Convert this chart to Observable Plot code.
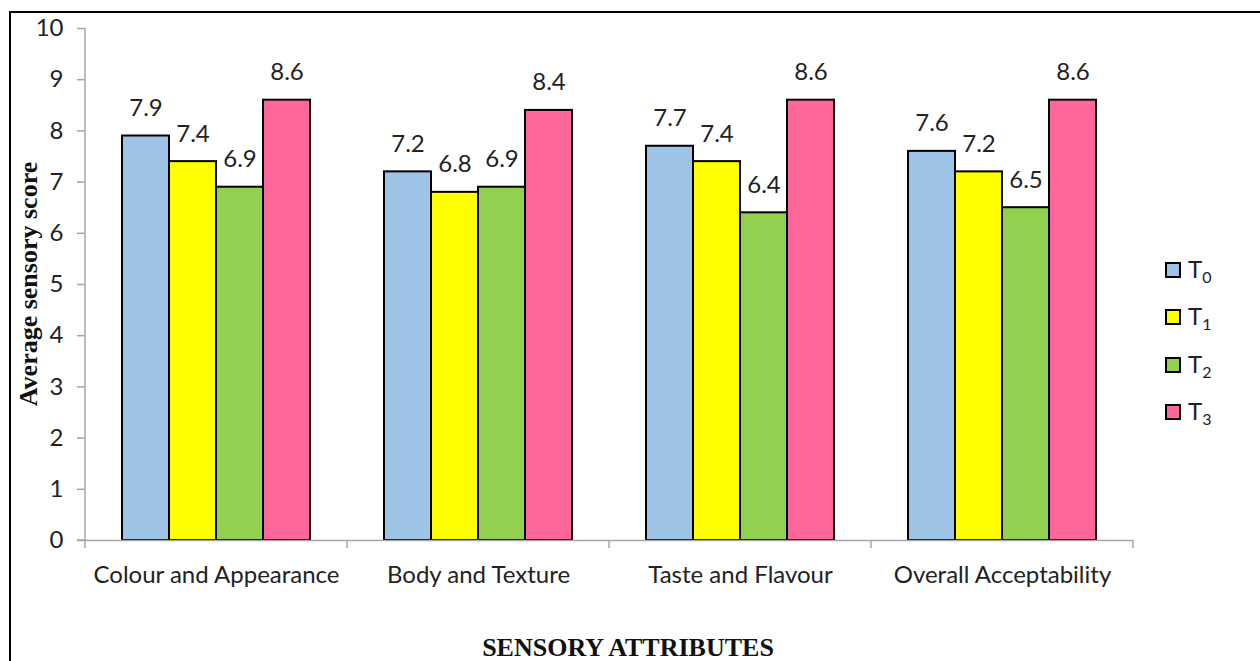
<!DOCTYPE html>
<html>
<head>
<meta charset="utf-8">
<script src="https://cdn.jsdelivr.net/npm/d3@7"></script>
<script src="https://cdn.jsdelivr.net/npm/@observablehq/plot@0.6"></script>
<style>
  html, body { margin: 0; padding: 0; background: #fff; }
  #wrap { position: relative; width: 1260px; height: 661px; overflow: hidden; }
  #border { position: absolute; left: 9px; top: 11px; width: 1300px; height: 700px; border: 2px solid #000; box-sizing: border-box; }
  #chart { position: absolute; left: 0; top: 0; }
  #legend { position: absolute; left: 1165px; top: 246px; font-family: Lato, "Open Sans", sans-serif; font-size: 24px; color: #222; }
  .item { display: flex; align-items: center; height: 47.5px; }
  .sw { width: 12px; height: 12px; border: 2px solid #000; margin-right: 7px; }
  .item sub { font-size: 16px; vertical-align: -5px; }
</style>
</head>
<body>
<div id="wrap">
  <div id="border"></div>
  <div id="chart"></div>
  <div id="legend"></div>
</div>
<script>
const categories = ["Colour and Appearance", "Body and Texture", "Taste and Flavour", "Overall Acceptability"];
const series = ["T0", "T1", "T2", "T3"];
const seriesSub = ["0", "1", "2", "3"];
const colors = ["#9dc3e6", "#ffff00", "#92d050", "#ff6699"];
const T0 = [7.9, 7.2, 7.7, 7.6];
const T1 = [7.4, 6.8, 7.4, 7.2];
const T2 = [6.9, 6.9, 6.4, 6.5];
const T3 = [8.6, 8.4, 8.6, 8.6];
const yTicks = [0, 1, 2, 3, 4, 5, 6, 7, 8, 9, 10];

const valuesBySeries = [T0, T1, T2, T3];
const data = [];
categories.forEach((c, i) => series.forEach((s, j) => data.push({category: c, series: s, value: valuesBySeries[j][i]})));

const font = "Lato, 'Open Sans', sans-serif";
const axisGrey = "#a6a6a6";
const textColor = "#222";

const chart = Plot.plot({
  width: 1260,
  height: 661,
  marginLeft: 84,
  marginRight: 127,
  marginTop: 28,
  marginBottom: 121,
  style: {fontFamily: font, fontSize: "24px", color: textColor, background: "transparent"},
  fx: {domain: categories, padding: 0},
  x: {domain: series, paddingInner: 0, paddingOuter: 0.73},
  y: {domain: [0, 10]},
  color: {domain: series, range: colors},
  marks: [
    Plot.axisY({ticks: yTicks, tickSize: 8, tickPadding: 14, stroke: axisGrey, strokeWidth: 1.5, fontSize: 24, label: null}),
    Plot.axisFx({anchor: "bottom", tickSize: 0, tickPadding: 25, fontSize: 24, label: null}),
    Plot.axisX({ticks: [], label: null}),
    Plot.barY(data, {fx: "category", x: "series", y: "value", fill: "series", stroke: "#000", strokeWidth: 2}),
    Plot.ruleY([0], {stroke: axisGrey, strokeWidth: 1.5}),
    Plot.text(data, {fx: "category", x: "series", y: "value", text: d => d.value.toFixed(1), lineAnchor: "bottom", dy: -20, fontSize: 24, fill: textColor})
  ]
});
document.getElementById("chart").appendChild(chart);

// axis line, boundary ticks and titles drawn from Plot's scales
const svg = d3.select(chart);
const ys = chart.scale("y");
const fxs = chart.scale("fx");
const y0 = ys.apply(0);
const xLeft = fxs.apply(categories[0]);
svg.append("line").attr("x1", xLeft).attr("x2", xLeft)
  .attr("y1", ys.apply(10)).attr("y2", y0)
  .attr("stroke", axisGrey).attr("stroke-width", 1.5);
svg.append("line").attr("x1", xLeft - 8).attr("x2", xLeft)
  .attr("y1", y0).attr("y2", y0)
  .attr("stroke", axisGrey).attr("stroke-width", 1.5);
const edges = categories.map(c => fxs.apply(c));
edges.push(fxs.apply(categories[categories.length - 1]) + fxs.bandwidth);
for (const x of edges) {
  svg.append("line").attr("x1", x).attr("x2", x).attr("y1", y0).attr("y2", y0 + 8)
    .attr("stroke", axisGrey).attr("stroke-width", 1.5);
}
const serif = "'Liberation Serif', 'Times New Roman', serif";
svg.append("text").text("Average sensory score")
  .attr("transform", `translate(37, ${(ys.apply(0) + ys.apply(10)) / 2}) rotate(-90)`)
  .attr("text-anchor", "middle")
  .style("font-family", serif).style("font-weight", "bold").style("font-size", "26px").attr("fill", "#111");
svg.append("text").text("SENSORY ATTRIBUTES")
  .attr("x", 628).attr("y", 656)
  .attr("text-anchor", "middle")
  .style("font-family", serif).style("font-weight", "bold").style("font-size", "26px").attr("fill", "#111");

const legend = document.getElementById("legend");
series.forEach((s, j) => {
  const item = document.createElement("div");
  item.className = "item";
  item.innerHTML = `<div class="sw" style="background:${colors[j]}"></div><span>T<sub>${seriesSub[j]}</sub></span>`;
  legend.appendChild(item);
});
</script>
</body>
</html>
